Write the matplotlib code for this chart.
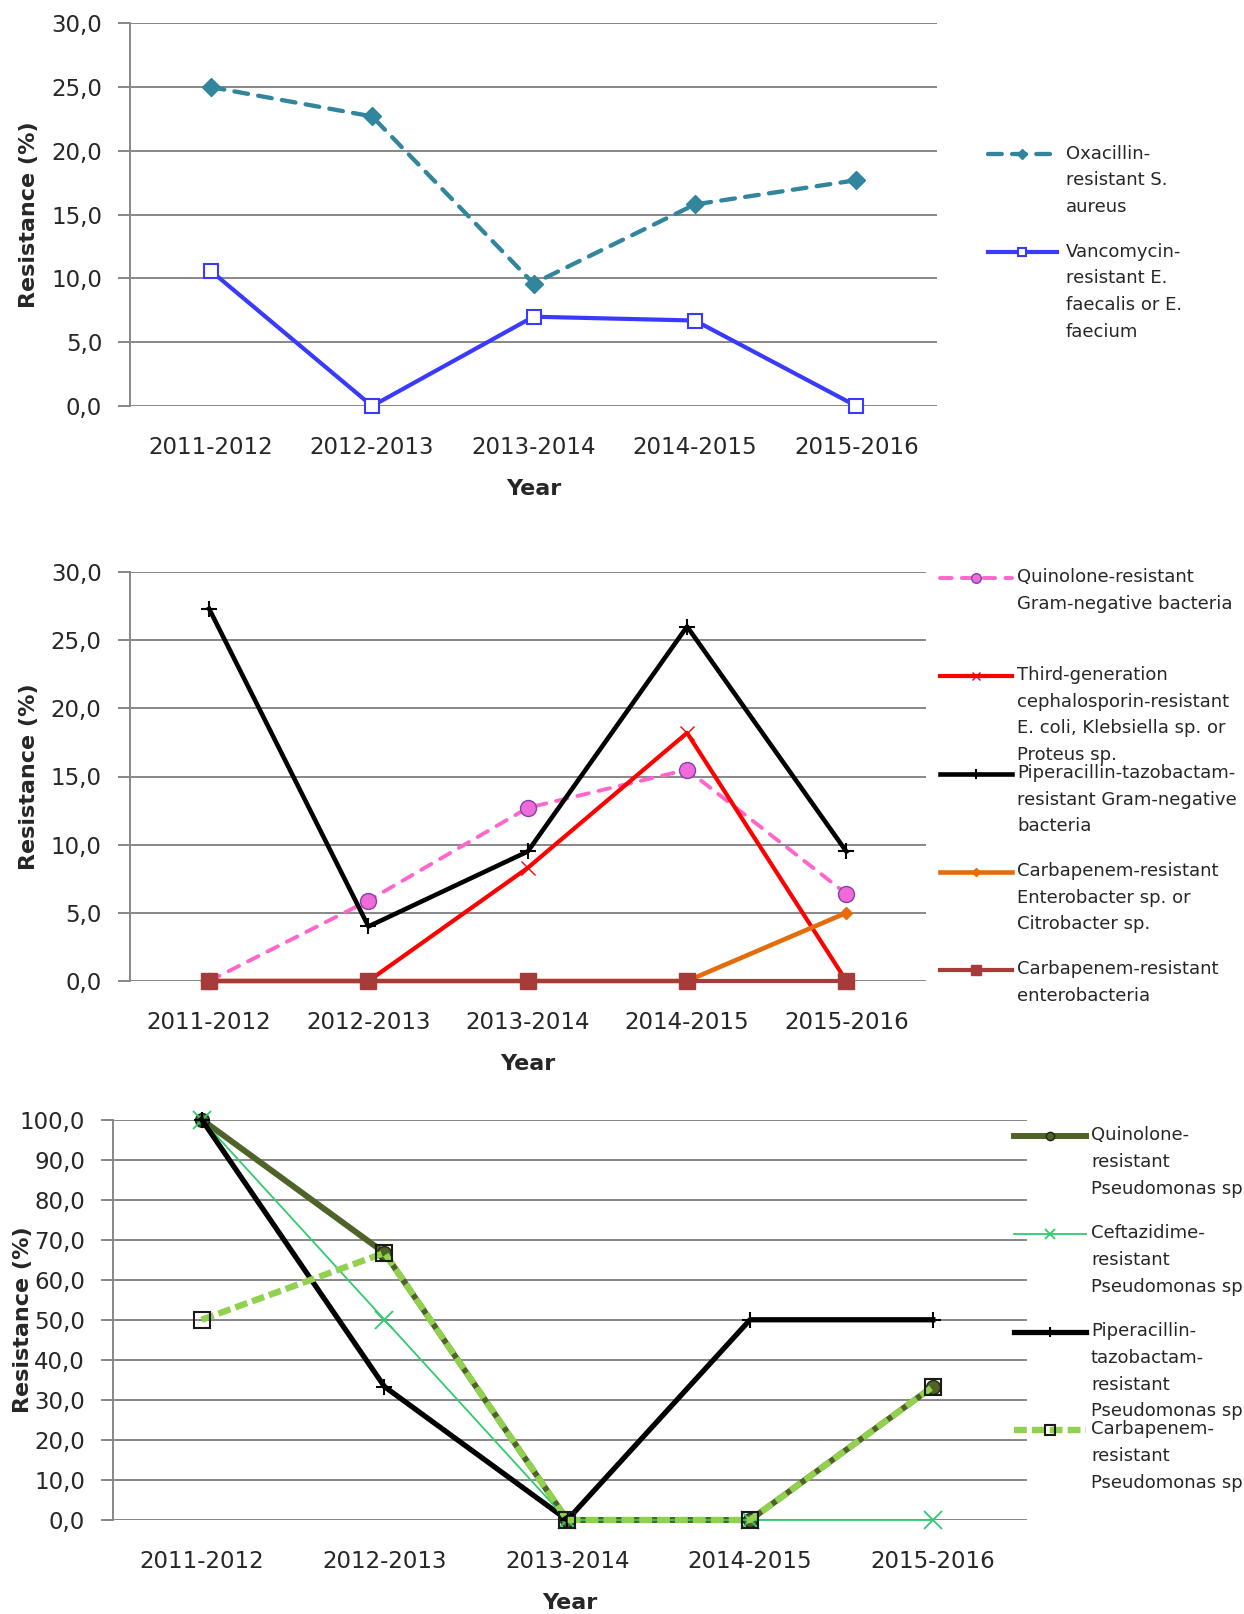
import numpy as np
import matplotlib
matplotlib.use("Agg")
import matplotlib.pyplot as plt
from matplotlib.lines import Line2D
from matplotlib.legend_handler import HandlerLine2D
from matplotlib.ticker import FuncFormatter
import matplotlib.transforms as mtransforms

years = ["2011-2012", "2012-2013", "2013-2014", "2014-2015", "2015-2016"]

# top chart - gram positive
oxa_saureus = [25.0, 22.7, 9.6, 15.8, 17.7]
vanco_entero = [10.6, 0.0, 7.0, 6.7, 0.0]

# middle chart - gram negative
quino_gn = [0.0, 5.9, 12.7, 15.5, 6.4]
ceph3_ecoli = [0.0, 0.0, 8.3, 18.2, 0.0]
pipta_gn = [27.3, 4.0, 9.5, 26.0, 9.5]
carba_enterobacter = [0.0, 0.0, 0.0, 0.0, 5.0]
carba_enterobacteria = [0.0, 0.0, 0.0, 0.0, 0.0]

# bottom chart - pseudomonas
quino_ps = [100.0, 66.7, 0.0, 0.0, 33.3]
cefta_ps = [100.0, 50.0, 0.0, 0.0, 0.0]
pipta_ps = [100.0, 33.3, 0.0, 50.0, 50.0]
carba_ps = [50.0, 66.7, 0.0, 0.0, 33.3]

W, H = 1244, 1614
GRID = "#878787"
TXT = "#262626"
LEG_FS = 13
LEG_LS = 1.62

fig = plt.figure(figsize=(W / 100, H / 100), dpi=100)


class FirstLineHandler(HandlerLine2D):
    # legend sample next to the first line of the (4 line) label
    def create_artists(self, legend, orig_handle, xdescent, ydescent,
                       width, height, fontsize, trans):
        arts = super().create_artists(legend, orig_handle, xdescent, ydescent,
                                      width, height, fontsize, trans)
        shift = 1.5 * fontsize * (0.76 * LEG_LS + 0.24)
        for a in arts:
            a.set_ydata(np.asarray(a.get_ydata()) + shift)
        return arts


def lab(s):
    return s + "\n" * (3 - s.count("\n"))


def px_axes(left, top, right, bottom):
    return fig.add_axes([left / W, 1 - bottom / H, (right - left) / W, (bottom - top) / H])


def style(ax, ymax, ystep, top, bottom, ylab_x):
    x = np.arange(len(years))
    ax.set_ylim(0, ymax)
    ax.set_yticks(np.arange(0, ymax + 0.1, ystep))
    ax.yaxis.set_major_formatter(FuncFormatter(lambda v, p: f"{v:.1f}".replace(".", ",")))
    ax.set_xticks(x)
    ax.set_xticklabels(years)
    for s in ["top", "right", "bottom"]:
        ax.spines[s].set_visible(False)
    ax.spines["left"].set_color(GRID)
    ax.spines["left"].set_linewidth(1.4)
    ax.grid(axis="y", color=GRID, linewidth=1.4)
    ax.set_axisbelow(True)
    ax.tick_params(axis="y", length=8.6, width=1.4, color=GRID, pad=11.5,
                   labelsize=16.5, labelcolor=TXT)
    ax.tick_params(axis="x", length=0, pad=21.5, labelsize=16.5, labelcolor=TXT)
    ax.set_xlabel("Year", fontsize=16, fontweight="bold", color=TXT)
    ax.set_ylabel("Resistance (%)", fontsize=16, fontweight="bold", color=TXT)
    hpx = bottom - top
    ax.xaxis.set_label_coords(0.5, -73 / hpx)
    ax.yaxis.set_label_coords(ylab_x / W, 0.5,
                              transform=mtransforms.blended_transform_factory(fig.transFigure, ax.transAxes))
    # markers sitting on 0 / top line must not be cut
    for ln in ax.get_lines():
        ln.set_clip_on(False)


def side_legend(ax, left, top, hl, pad):
    leg = ax.legend(loc="upper left", bbox_to_anchor=(left / W, 1 - top / H),
                    bbox_transform=fig.transFigure, frameon=False, fontsize=LEG_FS,
                    handlelength=hl, handletextpad=pad, borderpad=0, borderaxespad=0,
                    labelspacing=0, markerscale=0.6, labelcolor=TXT,
                    handler_map={Line2D: FirstLineHandler()})
    for t in leg.get_texts():
        t.set_linespacing(LEG_LS)


x = np.arange(len(years))

# ---- top
ax1 = px_axes(130, 23.3, 937, 406)
ax1.plot(x, oxa_saureus, color="#31859C", lw=3.1, dashes=(3.2, 2.4), dash_capstyle="round",
         marker="D", ms=9, label=lab("Oxacillin-\nresistant S.\naureus"))
ax1.plot(x, vanco_entero, color="#3A3AFF", lw=3, marker="s", ms=10.5, mfc="white",
         mec="#3A3AFF", mew=1.5, label=lab("Vancomycin-\nresistant E.\nfaecalis or E.\nfaecium"))
ax1.set_xlim(-0.5, 4.5)
style(ax1, 30, 5, 23.3, 406, 39)
side_legend(ax1, 988, 144.6, 3.8, 0.5)

# ---- middle
ax2 = px_axes(129.5, 572, 926, 981)
ax2.plot(x, quino_gn, color="#FF66CC", lw=2.8, dashes=(3.0, 2.6), dash_capstyle="round",
         marker="o", ms=11.5, mfc="#F06BD8", mec="#8040B0", mew=1,
         label=lab("Quinolone-resistant\nGram-negative bacteria"))
ax2.plot(x, ceph3_ecoli, color="#FF0000", lw=3, marker="x", ms=10, mew=1,
         label=lab("Third-generation\ncephalosporin-resistant\nE. coli, Klebsiella sp. or\nProteus sp."))
ax2.plot(x, pipta_gn, color="black", lw=3.3, marker="+", ms=12, mew=1.5,
         label=lab("Piperacillin-tazobactam-\nresistant Gram-negative\nbacteria"))
ax2.plot(x, carba_enterobacter, color="#E46C0A", lw=3.3, marker="D", ms=6.5,
         label=lab("Carbapenem-resistant\nEnterobacter sp. or\nCitrobacter sp."))
ax2.plot(x, carba_enterobacteria, color="#A63C3A", lw=3, marker="s", ms=12,
         label=lab("Carbapenem-resistant\nenterobacteria"))
ax2.set_xlim(-0.5, 4.5)
style(ax2, 30, 5, 572, 981, 39)
side_legend(ax2, 940, 568, 4.0, 0.28)

# ---- bottom
ax3 = px_axes(113, 1119.5, 1027, 1520)
ax3.plot(x, quino_ps, color="#4F6228", lw=4.3, marker="o", ms=10, mfc="#4F6228", mec="#1E2A10",
         label=lab("Quinolone-\nresistant\nPseudomonas sp."))
ax3.plot(x, cefta_ps, color="#2FCB6E", lw=1.3, marker="x", ms=13, mew=1.3,
         label=lab("Ceftazidime-\nresistant\nPseudomonas sp."))
ax3.plot(x, pipta_ps, color="black", lw=3.8, marker="+", ms=12, mew=1.5,
         label=lab("Piperacillin-\ntazobactam-\nresistant\nPseudomonas sp."))
ax3.plot(x, carba_ps, color="#92D050", lw=4.6, dashes=(2.0, 0.8), marker="s", ms=11,
         mfc="none", mec="#1A1A1A", mew=1.5,
         label=lab("Carbapenem-\nresistant\nPseudomonas sp."))
ax3.set_xlim(-0.485, 4.515)
style(ax3, 100, 10, 1119.5, 1520, 33)
side_legend(ax3, 1014, 1126.3, 4.0, 0.26)

fig.savefig("out.png", dpi=100)
